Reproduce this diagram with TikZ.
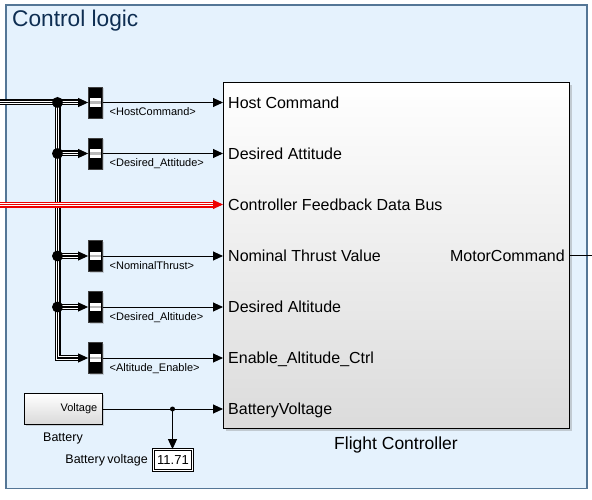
\documentclass[tikz,border=0pt]{standalone}
\usepackage{fontspec}
\setmainfont{Liberation Sans}
\usetikzlibrary{arrows.meta,shadows,calc}
\definecolor{framefill}{RGB}{229,242,253}
\definecolor{frameline}{RGB}{84,118,150}
\definecolor{titleblue}{RGB}{14,46,82}
\definecolor{busred}{RGB}{238,0,0}
\tikzset{
  arrowhead/.style={-{Triangle[length=10pt,width=9pt]}, line width=0.9pt},
  wire/.style={line width=0.9pt},
  bus/.style={draw=#1, line width=6pt, line join=miter, line cap=butt,
     postaction={draw=white, line width=3.8pt},
     postaction={draw=#1, line width=1.2pt}},
  busdot/.style={circle, fill=black, minimum size=11pt, inner sep=0pt},
  smalldot/.style={circle, fill=black, minimum size=5pt, inner sep=0pt},
  bsel/.style={rectangle, fill=black, draw=black!75, line width=0.8pt, minimum width=14pt, minimum height=31pt, inner sep=0pt,
     drop shadow={shadow xshift=1.5pt, shadow yshift=-1.5pt, opacity=0.3},
     path picture={
       \fill[white] ($(path picture bounding box.center)+(-5.5pt,-4.2pt)$) rectangle ($(path picture bounding box.center)+(5.5pt,4.2pt)$);
       \draw[gray!55, line width=2.6pt] ($(path picture bounding box.center)+(-5.5pt,0pt)$) -- ($(path picture bounding box.center)+(5.5pt,0pt)$);
     }},
  portlbl/.style={anchor=base west, font=\fontsize{16}{19}\selectfont, inner sep=0pt},
  sellbl/.style={anchor=base west, font=\fontsize{11}{13}\selectfont, inner sep=0pt},
  disp/.style={draw=black, fill=white, double=white, double distance=1.4pt, line width=0.8pt,
     minimum width=39pt, minimum height=21pt, inner sep=0pt, font=\fontsize{13}{15}\selectfont,
     drop shadow={shadow xshift=1.5pt, shadow yshift=-1.5pt, opacity=0.3}},
}
\begin{document}
\begin{tikzpicture}[x=1pt,y=-1pt]
\useasboundingbox (0,0) rectangle (592,500);
% frame
\node[draw=frameline, fill=framefill, line width=1.5pt, minimum width=581pt, minimum height=483.5pt, inner sep=0pt] (frame) at (296.5,246.75) {};
\node[anchor=base west, text=titleblue, font=\fontsize{22.7}{26}\selectfont, inner sep=0pt] (title) at (12,27) {Control logic};

% flight controller block
\node[draw=black, line width=0.9pt, top color=white, middle color=white!93!gray, bottom color=gray!28,
      minimum width=346pt, minimum height=346pt, inner sep=0pt,
      drop shadow={shadow xshift=2.5pt, shadow yshift=-2.5pt, opacity=0.35}] (fc) at (396,255.5) {};
\node[anchor=base, font=\fontsize{17.5}{20}\selectfont, inner sep=0pt] (fclbl) at (396,449) {Flight Controller};

% ports
\coordinate (p1) at (223,102.5);
\coordinate (p2) at (223,153.5);
\coordinate (p3) at (223,204.5);
\coordinate (p4) at (223,256);
\coordinate (p5) at (223,307);
\coordinate (p6) at (223,358);
\coordinate (p7) at (223,409);
\node[portlbl] (t1) at (228,108.3) {Host Command};
\node[portlbl] (t2) at (228,159.3) {Desired Attitude};
\node[portlbl] (t3) at (228,210.3) {Controller Feedback Data Bus};
\node[portlbl] (t4) at (228,261.8) {Nominal Thrust Value};
\node[portlbl] (t5) at (228,312.8) {Desired Altitude};
\node[portlbl] (t6) at (228,363.8) {Enable\_Altitude\_Ctrl};
\node[portlbl] (t7) at (228,414.8) {BatteryVoltage};
\node[anchor=base east, font=\fontsize{16}{19}\selectfont, inner sep=0pt] (mc) at (565,261.3) {MotorCommand};
\coordinate (out) at (592,255.5);
\draw[wire] (fc.east) -- (out);

% bus selectors
\node[bsel] (bs1) at (95.5,102.5) {};
\node[bsel] (bs2) at (95.5,153.5) {};
\node[bsel] (bs4) at (95.5,256) {};
\node[bsel] (bs5) at (95.5,307) {};
\node[bsel] (bs6) at (95.5,358) {};
\node[sellbl] (l1) at (109.5,116) {<HostCommand>};
\node[sellbl] (l2) at (109.5,167) {<Desired\_Attitude>};
\node[sellbl] (l4) at (109.5,269.5) {<NominalThrust>};
\node[sellbl] (l5) at (109.5,320.5) {<Desired\_Altitude>};
\node[sellbl] (l6) at (109.5,371.5) {<Altitude\_Enable>};

% bus junctions
\coordinate (in1) at (0,102.5);
\coordinate (in3) at (0,204.5);
\coordinate (j1) at (57.5,102.5);
\coordinate (j2) at (57.5,153.5);
\coordinate (j4) at (57.5,256);
\coordinate (j5) at (57.5,307);
\coordinate (jc) at (57.5,358);

\draw[bus=black] (in1) -- (j1) -- (jc) -- ($(bs6.west)+(-9pt,0pt)$);
\draw[bus=black] (j1) -- ($(bs1.west)+(-9pt,0pt)$);
\draw[bus=black] (j2) -- ($(bs2.west)+(-9pt,0pt)$);
\draw[bus=black] (j4) -- ($(bs4.west)+(-9pt,0pt)$);
\draw[bus=black] (j5) -- ($(bs5.west)+(-9pt,0pt)$);
\foreach \b in {bs1,bs2,bs4,bs5,bs6}{
  \draw[arrowhead] ($(\b.west)+(-10pt,0pt)$) -- (\b.west);
}
\node[busdot] (d1) at (j1) {};
\node[busdot] (d2) at (j2) {};
\node[busdot] (d4) at (j4) {};
\node[busdot] (d5) at (j5) {};

% red feedback bus
\draw[bus=busred] (in3) -- ($(p3)+(-9pt,0pt)$);
\draw[arrowhead, busred] ($(p3)+(-10pt,0pt)$) -- (p3);

% selector outputs
\draw[arrowhead] (bs1.east) -- (p1);
\draw[arrowhead] (bs2.east) -- (p2);
\draw[arrowhead] (bs4.east) -- (p4);
\draw[arrowhead] (bs5.east) -- (p5);
\draw[arrowhead] (bs6.east) -- (p6);

% battery
\node[draw=black, line width=0.8pt, top color=white, bottom color=gray!30, minimum width=78pt, minimum height=31pt, inner sep=0pt,
      drop shadow={shadow xshift=1.5pt, shadow yshift=-1.5pt, opacity=0.3}] (bat) at (63,409) {};
\node[anchor=east, font=\fontsize{11}{13}\selectfont, inner sep=0pt] (batv) at (97.5,409) {Voltage};
\node[anchor=base, font=\fontsize{12.5}{15}\selectfont, inner sep=0pt] (batlbl) at (63,441) {Battery};
\coordinate (jb) at (172.5,409);
\node[disp] (dsp) at (173,460) {11.71};
\node[anchor=east, font=\fontsize{12.5}{15}\selectfont, inner sep=0pt] (dsplbl) at (148,460) {Battery\hspace{-1pt} voltage};
\draw[wire] (bat.east) -- (jb);
\draw[arrowhead] (jb) -- (p7);
\draw[arrowhead] (jb) -- (jb |- dsp.north);
\node[smalldot] (db) at (jb) {};
\end{tikzpicture}
\end{document}
